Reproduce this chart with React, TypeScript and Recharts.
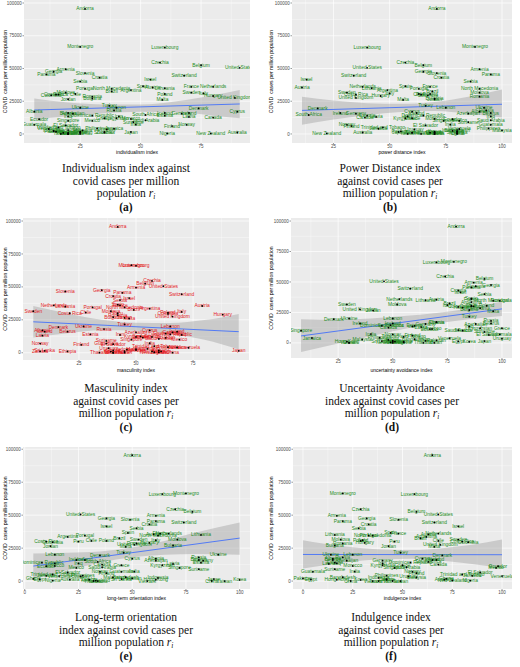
import React from "react";
import { ComposedChart, Scatter, Line, Area, XAxis, YAxis, CartesianGrid } from "recharts";

// countries and their covid cases per million (same y for every panel)
const countries = [
  "Andorra", "Montenegro", "Luxembourg", "Czechia", "Belgium", "United States", "Armenia", "Georgia", "Slovenia", "Panama",
  "Switzerland", "Croatia", "Israel", "Serbia", "Spain", "France", "Netherlands", "Austria", "Lithuania", "North Macedonia",
  "Portugal", "Argentina", "Brazil", "Moldova", "Sweden", "Italy", "Poland", "Chile", "Costa Rica", "Peru",
  "Colombia", "Hungary", "Romania", "United Kingdom", "Bulgaria", "Jordan", "Malta", "Turkey", "Ukraine", "Lebanon",
  "Denmark", "Russia", "Albania", "Cyprus", "Ireland", "Belarus", "Iceland", "Germany", "Azerbaijan", "South Africa",
  "Dominican Republic", "Estonia", "Iraq", "Iran", "Latvia", "Canada", "Greece", "Kyrgyzstan", "Morocco", "Ecuador",
  "Saudi Arabia", "Mexico", "Singapore", "Suriname", "India", "Guatemala", "Norway", "El Salvador", "Finland", "Trinidad and Tobago",
  "Philippines", "Jamaica", "Venezuela", "Uruguay", "Bangladesh", "Malaysia", "Indonesia", "Pakistan", "Kenya", "Ghana",
  "Sri Lanka", "Japan", "Egypt", "Australia", "Hong Kong", "Zambia", "Ethiopia", "Korea", "New Zealand", "Nigeria",
  "Thailand", "China", "Taiwan", "Vietnam", "Tanzania",
];

const cases = [
  95500, 66500, 66000, 54500, 52500, 50500, 49500, 47500, 46500, 45500,
  44500, 43000, 41500, 40000, 36500, 36000, 36000, 35500, 35000, 34500,
  34500, 33500, 32500, 31500, 31500, 31000, 30500, 30500, 30000, 30000,
  29500, 29000, 28500, 27500, 27000, 26500, 26000, 21500, 20000, 20000,
  19500, 18000, 17000, 17000, 16000, 16000, 16000, 15500, 15500, 14500,
  14000, 14000, 13500, 13500, 13000, 12500, 12000, 12000, 11500, 11300,
  10500, 10000, 10000, 9000, 7200, 7000, 7000, 6500, 6000, 5000,
  4200, 4000, 3800, 3500, 3000, 2800, 2400, 2000, 1800, 1700,
  1500, 1500, 1200, 1100, 1000, 1000, 1000, 900, 400, 400,
  60, 60, 30, 15, 10,
];

const powerDistance = [
  71, 88, 40, 57, 65, 40, 90, 65, 71, 95,
  34, 73, 13, 86, 57, 68, 38, 11, 42, 90,
  63, 49, 69, 90, 31, 50, 68, 63, 35, 64,
  67, 46, 90, 35, 70, 70, 56, 66, 92, 75,
  18, 93, 90, 60, 28, 95, 62, 35, 85, 14,
  65, 40, 95, 58, 44, 39, 60, 57, 70, 78,
  95, 81, 74, 85, 77, 95, 31, 66, 33, 47,
  94, 45, 81, 61, 80, 100, 78, 55, 70, 80,
  80, 54, 70, 38, 68, 60, 70, 60, 22, 80,
  64, 80, 58, 70, 70,
];

const individualism = [
  27, 25, 60, 58, 75, 91, 19, 14, 27, 11,
  68, 33, 54, 25, 51, 71, 80, 55, 60, 38,
  27, 46, 38, 19, 71, 76, 60, 23, 15, 16,
  13, 80, 30, 89, 30, 20, 59, 37, 25, 40,
  74, 39, 6, 90, 70, 20, 60, 67, 22, 52,
  30, 60, 20, 41, 70, 80, 35, 40, 46, 8,
  52, 30, 20, 47, 48, 6, 69, 19, 63, 16,
  32, 39, 12, 36, 20, 26, 14, 14, 25, 15,
  35, 46, 25, 90, 25, 35, 20, 18, 79, 61,
  20, 20, 17, 20, 25,
];

const masculinity = [
  42, 48, 50, 57, 54, 62, 50, 35, 19, 44,
  70, 40, 47, 43, 42, 43, 14, 79, 19, 45,
  31, 56, 49, 39, 5, 70, 64, 28, 21, 42,
  64, 88, 42, 66, 40, 45, 47, 45, 27, 65,
  16, 36, 9, 56, 68, 20, 10, 66, 50, 63,
  65, 30, 70, 43, 9, 52, 57, 50, 53, 63,
  60, 69, 48, 37, 56, 37, 8, 40, 26, 58,
  64, 68, 73, 38, 55, 50, 46, 50, 60, 40,
  10, 95, 45, 61, 57, 8, 20, 39, 58, 60,
  34, 66, 45, 40, 40,
];

const uncertainty = [
  79, 78, 70, 74, 92, 46, 87, 95, 88, 86,
  58, 80, 81, 92, 86, 86, 53, 70, 65, 96,
  99, 86, 76, 52, 29, 75, 93, 86, 86, 87,
  80, 82, 90, 35, 85, 41, 96, 85, 30, 50,
  23, 95, 70, 70, 35, 95, 50, 65, 88, 49,
  45, 60, 85, 59, 63, 48, 100, 90, 68, 67,
  80, 82, 8, 92, 40, 99, 50, 94, 59, 55,
  44, 13, 76, 100, 60, 36, 48, 70, 50, 65,
  45, 92, 80, 51, 29, 50, 55, 85, 49, 55,
  64, 30, 69, 30, 50,
];

const longTerm = [
  50, 75, 64, 70, 78, 26, 61, 38, 49, 61,
  74, 58, 38, 52, 48, 63, 67, 60, 82, 62,
  28, 20, 44, 71, 53, 61, 38, 31, 10, 25,
  13, 58, 52, 51, 69, 12, 47, 46, 90, 14,
  35, 81, 61, 50, 24, 81, 28, 83, 61, 34,
  8, 82, 25, 14, 69, 36, 45, 64, 14, 10,
  36, 24, 72, 81, 51, 45, 35, 20, 38, 13,
  27, 10, 16, 26, 47, 41, 62, 50, null, 4,
  45, 88, 7, 21, 61, 30, null, 100, 33, 13,
  32, 87, 93, 57, 34,
];

const indulgence = [
  65, 20, 56, 29, 57, 68, 17, 32, 48, 20,
  66, 33, 78, 28, 44, 48, 68, 63, 16, 35,
  33, 62, 59, 19, 78, 30, 29, 68, 80, 46,
  83, 31, 20, 69, 16, 43, 66, 49, 14, 25,
  70, 20, 15, 60, 65, 15, 67, 40, 22, 63,
  54, 16, 17, 40, 13, 68, 50, 40, 25, 98,
  52, 97, 46, 16, 26, 5, 55, 89, 57, 80,
  42, 85, 100, 53, 20, 57, 38, 0, null, 72,
  null, 42, 4, 71, 17, 42, null, 29, 75, 84,
  45, 24, 49, 35, 38,
];

// lm fit ends and confidence ribbon [x, low, high]
const fitIdv = [[6, 18300], [91, 22900]];
const ribbonIdv = [[6, 11000, 27000], [20, 13500, 24000], [35, 15800, 22500], [50, 17000, 22500], [65, 16500, 25000], [80, 14000, 29500], [91, 12000, 33500]];
const fitPdi = [[11, 18000], [100, 22700]];
const ribbonPdi = [[11, 7000, 28500], [25, 11000, 25500], [40, 14500, 23500], [55, 16800, 23000], [70, 17500, 24500], [85, 15500, 28500], [100, 12500, 34000]];
const fitMas = [[5, 23500], [95, 16000]];
const ribbonMas = [[5, 11500, 35500], [20, 14800, 29800], [35, 17000, 25000], [50, 16800, 22700], [65, 14500, 22500], [80, 9800, 24800], [95, 2500, 29500]];
const fitUai = [[8, 5700], [100, 27900]];
const ribbonUai = [[8, -7400, 19500], [25, -500, 19000], [40, 5500, 20000], [55, 11500, 22000], [70, 16000, 24500], [85, 19500, 28500], [100, 22000, 34000]];
const fitLto = [[4, 11400], [100, 32600]];
const ribbonLto = [[4, 2000, 21000], [20, 8500, 21500], [35, 14000, 22500], [50, 18000, 25500], [65, 20000, 30500], [80, 20500, 37000], [100, 20000, 44500]];
const fitIvr = [[0, 20200], [100, 20000]];
const ribbonIvr = [[0, 9500, 31000], [20, 14000, 26500], [40, 16500, 24000], [55, 17000, 23500], [70, 15500, 25000], [85, 13000, 27500], [100, 10000, 31500]];

const yTicks = [0, 25000, 50000, 75000, 100000];
const yMinor = [12500, 37500, 62500, 87500];
const xMinor = [12.5, 37.5, 62.5, 87.5];

const GREEN = "#228B22";
const RED = "#E3191C";
const SANS = "Liberation Sans, Arial, sans-serif";
const SERIF = "Liberation Serif, Times New Roman, serif";

const panels = [
  {
    xs: individualism, fit: fitIdv, ribbon: ribbonIdv, color: GREEN,
    xDomain: [1.75, 95.25], xTicks: [25, 50, 75], yDomain: [-6900, 102300],
    chartLeft: 0, l: 24, t: 0, r: 250, b: 143,
    xTitle: "individualism index", xTitleY: 152,
    caption: ["Individualism index against", "covid cases per million", "population "], capX: 126, capY: 168, tag: "(a)",
  },
  {
    xs: powerDistance, fit: fitPdi, ribbon: ribbonPdi, color: GREEN,
    xDomain: [6.55, 104.45], xTicks: [25, 50, 75, 100], yDomain: [-6900, 102300],
    chartLeft: 262, l: 292, t: 0, r: 512, b: 143,
    xTitle: "power distance index", xTitleY: 152,
    caption: ["Power Distance index", "against covid cases per", "million population "], capX: 390, capY: 168, tag: "(b)",
  },
  {
    xs: masculinity, fit: fitMas, ribbon: ribbonMas, color: RED,
    xDomain: [0.5, 99.5], xTicks: [25, 50, 75], yDomain: [-5500, 102300],
    chartLeft: 0, l: 23, t: 218, r: 249, b: 360,
    xTitle: "masculinity index", xTitleY: 370,
    caption: ["Masculinity index", "against covid cases per", "million population "], capX: 126, capY: 388, tag: "(c)",
  },
  {
    xs: uncertainty, fit: fitUai, ribbon: ribbonUai, color: GREEN,
    xDomain: [3.4, 104.6], xTicks: [25, 50, 75, 100], yDomain: [-12400, 102500],
    chartLeft: 262, l: 291, t: 218, r: 512, b: 358,
    xTitle: "uncertainty avoidance index", xTitleY: 370,
    caption: ["Uncertainty Avoidance", "index against covid cases per", "million population "], capX: 392, capY: 388, tag: "(d)",
  },
  {
    xs: longTerm, fit: fitLto, ribbon: ribbonLto, color: GREEN,
    xDomain: [-0.8, 104.8], xTicks: [0, 25, 50, 75, 100], yDomain: [-6000, 101700],
    chartLeft: 0, l: 23, t: 447, r: 250, b: 589,
    xTitle: "long-term orientation index", xTitleY: 598,
    caption: ["Long-term orientation", "index against covid cases per", "million population "], capX: 126, capY: 617, tag: "(e)",
  },
  {
    xs: indulgence, fit: fitIvr, ribbon: ribbonIvr, color: GREEN,
    xDomain: [-5, 105], xTicks: [0, 25, 50, 75, 100], yDomain: [-6000, 101700],
    chartLeft: 262, l: 293, t: 447, r: 512, b: 589,
    xTitle: "indulgence index", xTitleY: 598,
    caption: ["Indulgence index", "against covid cases per", "million population "], capX: 391, capY: 617, tag: "(f)",
  },
];

const labelShape = (color: string) => (props: any) => (
  <text x={props.cx} y={props.cy} textAnchor="middle" dominantBaseline="central"
    fontSize={4.9} fontFamily={SANS} fill={color}>
    {props.payload.name}
  </text>
);

const dotShape = (props: any) => <circle cx={props.cx} cy={props.cy} r={0.9} fill="#000" />;

function Panel({ p }: { p: any }) {
  const pts = countries
    .map((name, i) => ({ name, x: p.xs[i], y: cases[i] }))
    .filter((d) => d.x !== null && d.x !== undefined);
  const band = p.ribbon.map(([x, lo, hi]: number[]) => ({ x, band: [lo, hi] }));
  const fit = p.fit.map(([x, y]: number[]) => ({ x, fit: y }));
  const axisH = 9;
  return (
    <div style={{ position: "absolute", left: p.chartLeft, top: p.t }}>
      <ComposedChart width={p.r - p.chartLeft} height={p.b - p.t + axisH} margin={{ top: 0, right: 0, bottom: 0, left: 0 }}>
        <CartesianGrid fill="#EBEBEB" stroke="#FFFFFF" strokeWidth={0.35} horizontalValues={yMinor} verticalValues={xMinor} />
        <CartesianGrid stroke="#FFFFFF" strokeWidth={0.7} horizontalValues={yTicks} verticalValues={p.xTicks} />
        <XAxis type="number" dataKey="x" domain={p.xDomain} ticks={p.xTicks} allowDataOverflow interval={0}
          height={axisH} axisLine={false} tickSize={1.5} tickMargin={0.5}
          tickLine={{ stroke: "#333", strokeWidth: 0.5 }}
          tick={{ fontSize: 4.5, fill: "#4D4D4D", fontFamily: SANS }} />
        <YAxis type="number" domain={p.yDomain} ticks={yTicks} allowDataOverflow interval={0}
          width={p.l - p.chartLeft} axisLine={false} tickSize={1.5} tickMargin={0.8}
          tickLine={{ stroke: "#333", strokeWidth: 0.5 }}
          tick={{ fontSize: 4.5, fill: "#4D4D4D", fontFamily: SANS }} />
        <Area data={band} dataKey="band" type="monotone" stroke="none" fill="#999999" fillOpacity={0.4} isAnimationActive={false} />
        <Scatter data={pts} dataKey="y" shape={labelShape(p.color)} isAnimationActive={false} />
        <Scatter data={pts} dataKey="y" shape={dotShape} isAnimationActive={false} />
        <Line data={fit} dataKey="fit" type="linear" stroke="#3366FF" strokeWidth={0.8} dot={false} isAnimationActive={false} />
      </ComposedChart>
    </div>
  );
}

function Texts() {
  return (
    <svg width={520} height={667} style={{ position: "absolute", left: 0, top: 0, pointerEvents: "none" }}>
      {panels.map((p, k) => {
        const yx = p.chartLeft === 0 ? 5 : 271;
        const ym = (p.t + p.b) / 2;
        return (
          <g key={k}>
            <text x={yx} y={ym} transform={`rotate(-90 ${yx} ${ym})`} textAnchor="middle" dominantBaseline="central"
              fontSize={5.2} fontFamily={SANS} fill="#000" style={{ whiteSpace: "pre" }}>
              COVID  cases per million population
            </text>
            <text x={(p.l + p.r) / 2} y={p.xTitleY} textAnchor="middle" dominantBaseline="central"
              fontSize={5} fontFamily={SANS} fill="#000">
              {p.xTitle}
            </text>
            {p.caption.map((line, j) => (
              <text key={j} x={p.capX} y={p.capY + j * 12.7} textAnchor="middle" dominantBaseline="central"
                fontSize={11.5} fontFamily={SERIF} fill="#111">
                {line}
                {j === p.caption.length - 1 && (
                  <>
                    <tspan fontStyle="italic">r</tspan>
                    <tspan fontStyle="italic" fontSize={7.5} dy={2.5}>i</tspan>
                  </>
                )}
              </text>
            ))}
            <text x={p.capX} y={p.capY + 39} textAnchor="middle" dominantBaseline="central"
              fontSize={11.5} fontWeight="bold" fontFamily={SERIF} fill="#111">
              {p.tag}
            </text>
          </g>
        );
      })}
    </svg>
  );
}

export default function App() {
  return (
    <div style={{ position: "absolute", left: 0, top: 0, width: 520, height: 667, background: "#fff", overflow: "hidden" }}>
      {panels.map((p, k) => (
        <Panel key={k} p={p} />
      ))}
      <Texts />
    </div>
  );
}
